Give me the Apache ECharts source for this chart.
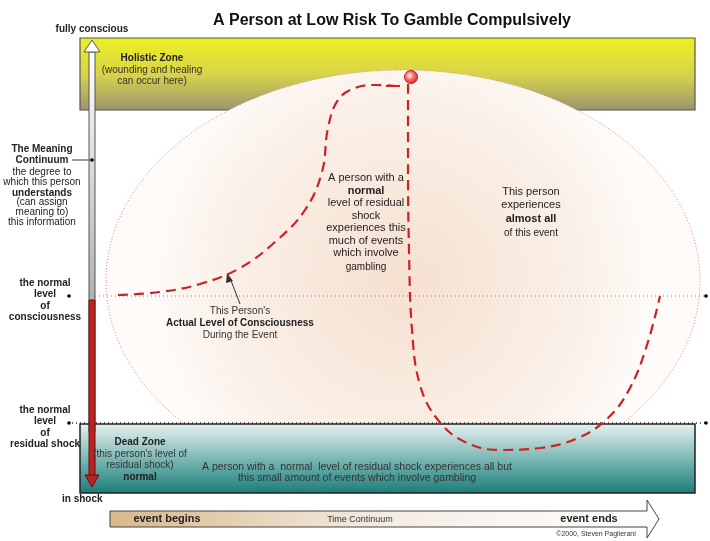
<!DOCTYPE html><html><head><meta charset="utf-8"><script src="https://cdn.jsdelivr.net/npm/echarts@6/dist/echarts.min.js"></script>
<style>html,body{margin:0;background:#fff}#c{width:710px;height:541px}</style></head><body><div id="c"></div><script>
const risePath=[[118,295],[160,292],[200,284],[240,268],[275,242],[305,210],[322,172],[328,128],[338,100],[355,88],[375,85],[395,86]];
const fallPath=[[408,84],[408,160],[409,250],[412,330],[420,385],[438,420],[465,442],[500,450],[540,448],[578,438],[608,418],[630,388],[647,345],[660,296]];
const peakPoint=[[411,77]];
const chartTitle="A Person at Low Risk To Gamble Compulsively";
const ch=echarts.init(document.getElementById('c'));
const F='Liberation Sans, Arial, sans-serif';
function t(x,y,text,o){return {type:'text',x:x,y:y,z:50,style:Object.assign({text:text,font:'11px '+F,fill:'#222',textAlign:'center',textVerticalAlign:'top',lineHeight:13},o||{})};}
const dash={type:[10,6],width:2.2};
ch.setOption({animation:false,
grid:{left:0,right:0,top:0,bottom:0},
xAxis:{type:'value',min:0,max:710,show:false},
yAxis:{type:'value',min:0,max:541,inverse:true,show:false},
title:{text:chartTitle,left:387,top:8,textAlign:'center',textStyle:{fontSize:16,fontWeight:'bold',fontFamily:F,color:'#111'}},
graphic:[
{type:'rect',z:1,shape:{x:80,y:38,width:615,height:72},style:{fill:new echarts.graphic.LinearGradient(0,0,0,1,[{offset:0,color:'#eef020'},{offset:0.5,color:'#d8d44a'},{offset:1,color:'#9a9470'}]),stroke:'#555',lineWidth:1.2}},
{type:'ellipse',z:2,shape:{cx:403,cy:281,rx:297,ry:211},style:{fill:new echarts.graphic.RadialGradient(0.5,0.5,0.6,[{offset:0,color:'#f6e0d0'},{offset:0.7,color:'#faf0e8'},{offset:1,color:'#fefbf9'}]),stroke:'#d88',lineWidth:1,lineDash:[1,2]}},
{type:'line',z:3,shape:{x1:95,y1:296,x2:705,y2:296},style:{stroke:'#888',lineDash:[1,3]}},
{type:'line',z:3,shape:{x1:72,y1:423,x2:705,y2:423},style:{stroke:'#333',lineDash:[1,3],lineWidth:1.3}},
{type:'rect',z:4,shape:{x:80,y:424,width:615,height:69},style:{fill:new echarts.graphic.LinearGradient(0,0,0,1,[{offset:0,color:'#e8f2f1'},{offset:0.5,color:'#7cb8b4'},{offset:1,color:'#1a7c78'}]),stroke:'#222',lineWidth:1.5}},
{type:'circle',z:5,shape:{cx:69,cy:296,r:1.8},style:{fill:'#000'}},
{type:'circle',z:5,shape:{cx:706,cy:296,r:1.8},style:{fill:'#000'}},
{type:'circle',z:5,shape:{cx:69,cy:423,r:1.8},style:{fill:'#000'}},
{type:'circle',z:5,shape:{cx:706,cy:423,r:1.8},style:{fill:'#000'}},
{type:'rect',z:20,shape:{x:89,y:52,width:6,height:380},style:{fill:new echarts.graphic.LinearGradient(0,0,0,1,[{offset:0,color:'#fff'},{offset:1,color:'#888'}]),stroke:'#555'}},
{type:'polygon',z:20,shape:{points:[[84,52],[92,40],[100,52]]},style:{fill:'#fff',stroke:'#555'}},
{type:'rect',z:20,shape:{x:89,y:300,width:6,height:175},style:{fill:'#b22',stroke:'#611'}},
{type:'polygon',z:20,shape:{points:[[85,475],[92,487],[99,475]]},style:{fill:'#b22',stroke:'#611'}},
{type:'line',z:20,shape:{x1:72,y1:160,x2:92,y2:160},style:{stroke:'#777',lineWidth:1.5}},
{type:'circle',z:21,shape:{cx:92,cy:160,r:1.8},style:{fill:'#000'}},
{type:'polygon',z:6,shape:{points:[[110,511],[647,511],[647,500],[659,519],[647,538],[647,527],[110,527]]},style:{fill:new echarts.graphic.LinearGradient(0,0,1,0,[{offset:0,color:'#d9b88a'},{offset:0.5,color:'#f4ede4'},{offset:1,color:'#fff'}]),stroke:'#444'}},
{type:'line',z:8,shape:{x1:230,y1:278,x2:240,y2:304},style:{stroke:'#333'}},
{type:'polygon',z:8,shape:{points:[[227,273],[226,283],[233,281]]},style:{fill:'#333'}},
t(92,23,'fully conscious',{font:'bold 10px '+F}),
t(152,52,'Holistic Zone',{font:'bold 10px '+F}),
t(152,65,'(wounding and healing\ncan occur here)',{font:'10px '+F,fill:'#333',lineHeight:11}),
t(42,144,'The Meaning\nContinuum',{font:'bold 10px '+F,lineHeight:11}),
t(42,167,'the degree to\nwhich this person',{font:'10px '+F,lineHeight:10}),
t(42,187,'understands',{font:'bold 10px '+F}),
t(42,197,'(can assign\nmeaning to)\nthis information',{font:'10px '+F,lineHeight:10}),
t(45,277,'the normal\nlevel\nof\nconsciousness',{font:'bold 10px '+F,lineHeight:11.5}),
t(45,404,'the normal\nlevel\nof\nresidual shock',{font:'bold 10px '+F,lineHeight:11.5}),
t(62,493,'in shock',{font:'bold 10px '+F,textAlign:'left'}),
t(140,436,'Dead Zone',{font:'bold 10px '+F}),
t(140,449,'(this person\'s level of\nresidual shock)',{font:'10px '+F,fill:'#333',lineHeight:11}),
t(140,471,'normal',{font:'bold 10px '+F}),
t(357,462,'A person with a  normal  level of residual shock experiences all but\nthis small amount of events which involve gambling',{font:'10.5px '+F,fill:'#333',lineHeight:11}),
t(366,171,'A person with a',{}),
t(366,184,'normal',{font:'bold 11px '+F}),
t(366,197,'level of residual\nshock\nexperiences this\nmuch of events\nwhich involve',{lineHeight:12.5}),
t(366,261,'gambling',{font:'10px '+F}),
t(531,185,'This person\nexperiences',{lineHeight:13}),
t(531,212,'almost all',{font:'bold 11px '+F}),
t(531,227,'of this event',{font:'10px '+F}),
t(240,305,'This Person\'s',{font:'10px '+F,fill:'#333'}),
t(240,317,'Actual Level of Consciousness',{font:'bold 10px '+F}),
t(240,329,'During the Event',{font:'10px '+F,fill:'#333'}),
t(167,512,'event begins',{font:'bold 11px '+F}),
t(360,513,'Time Continuum',{font:'9px '+F,fill:'#333'}),
t(589,512,'event ends',{font:'bold 11px '+F}),
t(596,528,'©2000, Steven Paglierani',{font:'7px '+F,fill:'#333'})
],
series:[
{type:'line',data:risePath,smooth:0.4,symbol:'none',z:10,lineStyle:Object.assign({color:'#cc2222'},dash)},
{type:'line',data:[[386,86],[400,86]],symbol:'none',z:10,lineStyle:{color:'#cc2222',width:2}},
{type:'line',data:fallPath,smooth:0.4,symbol:'none',z:10,lineStyle:Object.assign({color:'#cc2222'},dash)},
{type:'scatter',data:peakPoint,symbolSize:13,z:11,itemStyle:{color:new echarts.graphic.RadialGradient(0.4,0.4,0.6,[{offset:0,color:'#fff'},{offset:0.5,color:'#f44'},{offset:1,color:'#c00'}]),borderColor:'#a00'}}
]});
</script></body></html>
